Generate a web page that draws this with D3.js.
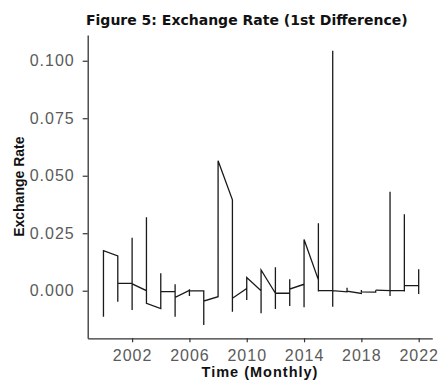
<!DOCTYPE html>
<html>
<head>
<meta charset="utf-8">
<script src="https://cdn.jsdelivr.net/npm/d3@7"></script>
<style>
  html, body { margin: 0; padding: 0; background: #fff; }
  svg { display: block; }
</style>
</head>
<body>
<svg id="chart" width="441" height="380"></svg>
<script>
// Years on the time axis; every month of a year shares that year's x position.
const years = [2000, 2001, 2002, 2003, 2004, 2005, 2006, 2007, 2008, 2009, 2010, 2011,
               2012, 2013, 2014, 2015, 2016, 2017, 2018, 2019, 2020, 2021, 2022];

// First-differenced exchange rate, monthly readings in order within each year.
const monthlyValues = [
  [-0.0113, 0.0174],
  [0.0151, -0.0048, 0.0032],
  [0.0032, 0.0230, -0.0084, 0.0030],
  [0.0000, 0.0319, -0.0055],
  [-0.0078, 0.0076, -0.0004],
  [-0.0004, 0.0028, -0.0113, -0.0029],
  [0.0002, 0.0006, -0.0023, -0.0001],
  [-0.0001, -0.0149, -0.0045],
  [-0.0026, 0.0565],
  [0.0395, -0.0091, -0.0033],
  [0.0010, -0.0040, 0.0057],
  [0.0000, -0.0098, 0.0090],
  [-0.0011, 0.0102, -0.0080, -0.0011],
  [-0.0011, 0.0050, -0.0067, 0.0007],
  [0.0028, -0.0072, 0.0223],
  [0.0047, 0.0293, -0.0004, 0.0000],
  [0.0000, 0.1043, -0.0070, 0.0000],
  [-0.0005, 0.0013, -0.0002],
  [-0.0012, 0.0003, -0.0005],
  [-0.0006, 0.0003, 0.0002],
  [0.0000, 0.0430, -0.0023, 0.0000],
  [0.0000, 0.0333, -0.0004, 0.0022],
  [0.0022, 0.0093, -0.0014]
];

const xTicks = [2002, 2006, 2010, 2014, 2018, 2022];
const yTicks = [0.000, 0.025, 0.050, 0.075, 0.100];

const titleText = "Figure 5: Exchange Rate (1st Difference)";
const xTitle = "Time (Monthly)";
const yTitle = "Exchange Rate";

const series = years.flatMap((yr, i) => monthlyValues[i].map(v => ({ t: yr, v })));

const svg = d3.select("#chart");
const panel = { left: 87.7, right: 432.3, top: 35, bottom: 338.3 };

const x = d3.scaleLinear().domain([1998.9, 2022.95]).range([panel.left, panel.right]);
const y = d3.scaleLinear().domain([-0.0207, 0.1112]).range([panel.bottom, panel.top]);

// Series line
svg.append("path")
  .datum(series)
  .attr("fill", "none")
  .attr("stroke", "#1a1a1a")
  .attr("stroke-width", 1.3)
  .attr("stroke-linejoin", "miter")
  .attr("d", d3.line().x(d => x(d.t)).y(d => y(d.v)));

// Axes
const xAxis = d3.axisBottom(x).tickValues(xTicks).tickFormat(d3.format("d"))
  .tickSize(4).tickSizeOuter(0).tickPadding(7.5);
const yAxis = d3.axisLeft(y).tickValues(yTicks).tickFormat(d3.format(".3f"))
  .tickSize(5).tickSizeOuter(0).tickPadding(8);

function styleAxis(g) {
  g.select(".domain").attr("stroke", "#333").attr("stroke-width", 1.3);
  g.selectAll(".tick line").attr("stroke", "#333").attr("stroke-width", 1.2);
  g.selectAll(".tick text")
    .attr("fill", "#5a5a5a")
    .style("font-family", "'Liberation Sans', Arial, sans-serif")
    .style("font-size", "16px")
    .style("letter-spacing", "1px");
}

svg.append("g")
  .attr("transform", `translate(0,${panel.bottom})`)
  .call(xAxis)
  .call(styleAxis);

svg.append("g")
  .attr("transform", `translate(${panel.left},0)`)
  .call(yAxis)
  .call(styleAxis);

// Titles
svg.append("text")
  .attr("x", 86)
  .attr("y", 25)
  .attr("fill", "#111")
  .style("font-family", "'DejaVu Sans', Verdana, sans-serif")
  .style("font-size", "14px")
  .style("font-weight", "bold")
  .text(titleText);

svg.append("text")
  .attr("x", (panel.left + panel.right) / 2)
  .attr("y", 377)
  .attr("text-anchor", "middle")
  .attr("fill", "#111")
  .style("font-family", "'Liberation Sans', Arial, sans-serif")
  .style("font-size", "14.5px")
  .style("font-weight", "bold")
  .style("letter-spacing", "1px")
  .text(xTitle);

svg.append("text")
  .attr("transform", `translate(24,${(panel.top + panel.bottom) / 2}) rotate(-90)`)
  .attr("text-anchor", "middle")
  .attr("fill", "#111")
  .style("font-family", "'Liberation Sans', Arial, sans-serif")
  .style("font-size", "14px")
  .style("font-weight", "bold")
  .text(yTitle);
</script>
</body>
</html>
